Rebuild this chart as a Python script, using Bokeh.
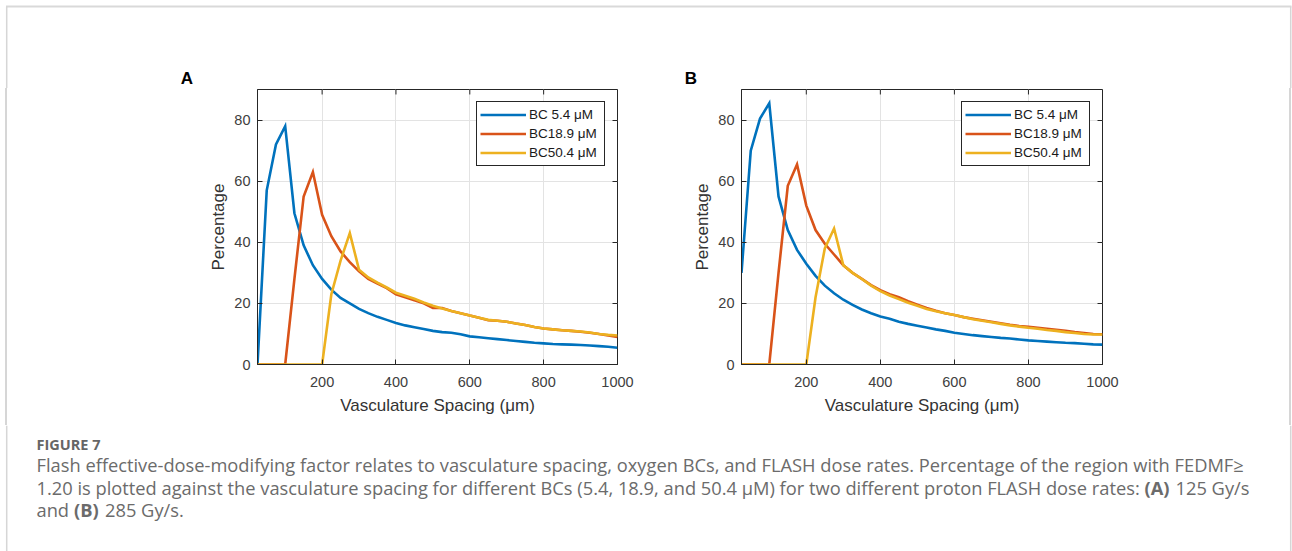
from bokeh.plotting import figure
from bokeh.models import Range1d, FixedTicker, LinearAxis, Legend, LegendItem, Div
from bokeh.layouts import column, row
from bokeh.embed import file_html
from bokeh.resources import INLINE
from bokeh.core.properties import value

# ---------------- data ----------------
spacing = list(range(25, 1001, 25))  # vasculature spacing (um)

a_bc54 = [0, 57, 72, 78, 49.5, 39, 32.5, 28, 24.5, 21.8, 20, 18.2, 16.8, 15.6, 14.6,
          13.6, 12.8, 12.2, 11.6, 11.0, 10.6, 10.4, 9.9, 9.2, 8.9, 8.6, 8.3, 8.0, 7.7,
          7.4, 7.1, 6.9, 6.7, 6.6, 6.5, 6.4, 6.2, 6.0, 5.8, 5.5]
a_bc189 = [0, 0, 0, 0, 28, 55, 63, 49, 42, 37, 33.5, 30.5, 28, 26.5, 25, 23, 22, 21,
           20, 18.5, 18.5, 17.5, 16.8, 16, 15.3, 14.5, 14.3, 14, 13.4, 12.9, 12.3,
           11.8, 11.5, 11.2, 11.0, 10.7, 10.4, 10.0, 9.5, 9.0]
a_bc504 = [0, 0, 0, 0, 0, 0, 0, 0, 23, 34, 43, 31, 28.5, 26.8, 25.2, 23.5, 22.5, 21.5,
           20.3, 19.2, 18.3, 17.5, 16.8, 16.0, 15.3, 14.6, 14.3, 14.0, 13.4, 12.9, 12.3,
           11.8, 11.5, 11.2, 11.0, 10.8, 10.5, 10.0, 9.7, 9.5]

b_bc54 = [30, 70, 80.5, 85.5, 55, 44, 37.5, 33, 29, 25.8, 23.3, 21.2, 19.5, 18, 16.8,
          15.7, 15, 14, 13.3, 12.7, 12.1, 11.5, 11, 10.4, 10, 9.6, 9.3, 9, 8.7, 8.5,
          8.2, 7.9, 7.7, 7.5, 7.3, 7.1, 7.0, 6.8, 6.6, 6.5]
b_bc189 = [0, 0, 0, 0, 30, 58.5, 65.5, 52, 44, 39.5, 36, 32.5, 30, 28, 26, 24.3, 23,
           22, 20.7, 19.6, 18.5, 17.6, 16.8, 16.2, 15.5, 15, 14.5, 14, 13.5, 13, 12.6,
           12.3, 12, 11.7, 11.4, 11, 10.6, 10.3, 10, 9.9]
b_bc504 = [0, 0, 0, 0, 0, 0, 0, 0, 22, 38, 44.5, 32.5, 30, 28, 25.8, 24, 22.6, 21.4,
           20.2, 19.2, 18.2, 17.4, 16.8, 16.2, 15.5, 14.8, 14.3, 13.8, 13.3, 12.8, 12.4,
           12, 11.7, 11.3, 11, 10.6, 10.3, 10, 9.8, 9.8]

series_labels = ["BC 5.4 \u03bcM", "BC18.9 \u03bcM", "BC50.4 \u03bcM"]
panel_letters = ["A", "B"]
x_ticks = [200, 400, 600, 800, 1000]
y_ticks = [0, 20, 40, 60, 80]
x_label = "Vasculature Spacing (\u03bcm)"
y_label = "Percentage"

caption_title = "FIGURE 7"
caption_l1 = ("Flash effective-dose-modifying factor relates to vasculature spacing, oxygen BCs, "
              "and FLASH dose rates. Percentage of the region with FEDMF\u2265")
caption_l2a = ("1.20 is plotted against the vasculature spacing for different BCs "
               "(5.4, 18.9, and 50.4 \u03bcM) for two different proton FLASH dose rates:")
caption_l2b = "(A)"
caption_l2c = "125 Gy/s"
caption_l3a = "and"
caption_l3b = "(B)"
caption_l3c = "285 Gy/s."

# ---------------- style ----------------
COLORS = ["#0072BD", "#D95319", "#EDB120"]
AX = "#262626"
TICK_TXT = "#404040"
FONT = "Liberation Sans"
BORDER = "#d6d6d6"
CAP_COLOR = "#6b6b6b"
CAP_FONT = "Open Sans"
CAP_SIZE = "18.3px"

W = 1292
BAND_H = 88          # strip above the panels
ROW_H = 337          # panel row
CAP_H = 551 - BAND_H - ROW_H
Y_MAX = 90


def blank(width, height, xr, yr):
    f = figure(width=width, height=height, x_range=xr, y_range=yr,
               output_backend="svg", toolbar_location=None, title=None,
               min_border_left=0, min_border_right=0, min_border_top=0, min_border_bottom=0,
               x_axis_location=None, y_axis_location=None)
    f.grid.visible = False
    f.outline_line_color = None
    f.background_fill_color = "white"
    f.border_fill_color = "white"
    return f


def make_panel(ys, width, bl, br, bt, bb):
    p = figure(width=width, height=ROW_H, x_range=Range1d(25, 1000), y_range=Range1d(0, Y_MAX),
               output_backend="svg", toolbar_location=None, title=None,
               min_border_left=bl, min_border_right=br, min_border_top=bt, min_border_bottom=bb,
               x_axis_label=x_label, y_axis_label=y_label)
    p.background_fill_color = "white"
    p.border_fill_color = "white"
    p.outline_line_color = AX
    p.outline_line_width = 1
    p.outline_line_alpha = 1

    p.xaxis.ticker = FixedTicker(ticks=x_ticks)
    p.yaxis.ticker = FixedTicker(ticks=y_ticks)
    p.xgrid.ticker = FixedTicker(ticks=x_ticks)
    p.ygrid.ticker = FixedTicker(ticks=y_ticks)
    p.grid.grid_line_color = "#e3e3e3"
    p.grid.grid_line_width = 1

    for ax in (p.xaxis[0], p.yaxis[0]):
        ax.axis_line_color = AX
        ax.major_tick_line_color = AX
        ax.major_tick_in = 5
        ax.major_tick_out = 0
        ax.minor_tick_line_color = None
        ax.major_label_text_font = FONT
        ax.major_label_text_font_size = "14.5px"
        ax.major_label_text_color = TICK_TXT
        ax.axis_label_text_font = FONT
        ax.axis_label_text_font_size = "17px"
        ax.axis_label_text_font_style = "normal"
        ax.axis_label_text_color = "#333333"
    p.xaxis.major_label_standoff = 12
    p.xaxis.axis_label_standoff = 6
    p.yaxis.major_label_standoff = 7
    p.yaxis.axis_label_standoff = 3

    # box ticks on the right (axis without labels) and on the top edge
    right = LinearAxis(ticker=FixedTicker(ticks=y_ticks),
                       major_label_overrides={t: "" for t in y_ticks},
                       axis_line_color=None, major_tick_in=5, major_tick_out=0,
                       major_tick_line_color=AX, minor_tick_line_color=None)
    p.add_layout(right, "right")
    tick_len = 5 * Y_MAX / 276.0
    p.segment(x0=x_ticks, y0=[Y_MAX] * len(x_ticks), x1=x_ticks,
              y1=[Y_MAX - tick_len] * len(x_ticks), line_color=AX, line_width=1)

    items = []
    for yv, c, lab in zip(ys, COLORS, series_labels):
        r = p.line(spacing, yv, line_color=c, line_width=2.6, line_join="miter")
        items.append(LegendItem(label=lab, renderers=[r]))
    leg = Legend(items=items, location="top_right", margin=12, padding=3, spacing=0,
                 glyph_width=46, glyph_height=19, label_height=19, label_width=72,
                 label_standoff=3,
                 label_text_font=FONT, label_text_font_size="13.5px",
                 label_text_color="#1a1a1a",
                 border_line_color=AX, border_line_width=1, border_line_alpha=1,
                 background_fill_color="white", background_fill_alpha=1)
    p.add_layout(leg)
    return p


# ---------------- top band: page border + panel letters ----------------
band = blank(W, BAND_H, Range1d(0, W), Range1d(BAND_H, 0))
band.segment(x0=[5.5], y0=[6], x1=[W - 1], y1=[6], line_color="#d9d9d9", line_width=2)
band.segment(x0=[6.2, W - 1.8], y0=[6, 6], x1=[6.2, W - 1.8], y1=[BAND_H, BAND_H],
             line_color=BORDER, line_width=1.5)
band.text(x=[186.5, 690.5], y=[78, 78], text=panel_letters, text_font=value(FONT),
          text_font_size=value("17px"), text_font_style="bold", text_color="black",
          text_align="center", text_baseline="alphabetic")

# ---------------- panel row ----------------
LSTRIP = 8
RSTRIP = 4
left_strip = Div(text="", width=LSTRIP, height=ROW_H, margin=0,
                 styles={"background-image": "linear-gradient(to right, transparent 5.5px, "
                                             "%s 5.5px, %s 7px, transparent 7px)" % (BORDER, BORDER)})
right_strip = Div(text="", width=RSTRIP, height=ROW_H, margin=0,
                  styles={"background-image": "linear-gradient(to right, transparent 1.5px, "
                                              "%s 1.5px, %s 3px, transparent 3px)" % (BORDER, BORDER)})

pa_w = 646 - LSTRIP
pb_w = W - LSTRIP - pa_w - RSTRIP
pa = make_panel([a_bc54, a_bc189, a_bc504], pa_w, 257 - LSTRIP, 646 - 617, 88 - BAND_H,
                ROW_H - (364 - BAND_H))
pb = make_panel([b_bc54, b_bc189, b_bc504], pb_w, 741 - 646, (W - RSTRIP) - 1102,
                89 - BAND_H, ROW_H - (365 - BAND_H))

# ---------------- caption ----------------
CAP_TOP = BAND_H + ROW_H
pc = blank(W, CAP_H, Range1d(0, W), Range1d(CAP_H, 0))
pc.segment(x0=[6.2, W - 1.8], y0=[0, 0], x1=[6.2, W - 1.8], y1=[CAP_H, CAP_H],
           line_color=BORDER, line_width=1.5)


def cap_text(x, y_page, s, bold=False, size=CAP_SIZE, color=CAP_COLOR):
    pc.text(x=[x], y=[y_page - CAP_TOP], text=[s], text_font=value(CAP_FONT),
            text_font_size=value(size), text_font_style="bold" if bold else "normal",
            text_color=color, text_align="left", text_baseline="alphabetic")


cap_text(36, 443.5, caption_title, bold=True, size="14.5px", color="#666666")
cap_text(36, 464, caption_l1)
cap_text(36, 486.5, caption_l2a)
cap_text(1144, 486.5, caption_l2b, bold=True)
cap_text(1175, 486.5, caption_l2c)
cap_text(36, 509, caption_l3a)
cap_text(73.5, 509, caption_l3b, bold=True)
cap_text(104.5, 509, caption_l3c)

layout = column(band, row(left_strip, pa, pb, right_strip), pc)
open("out.html", "w").write(file_html(layout, INLINE))
